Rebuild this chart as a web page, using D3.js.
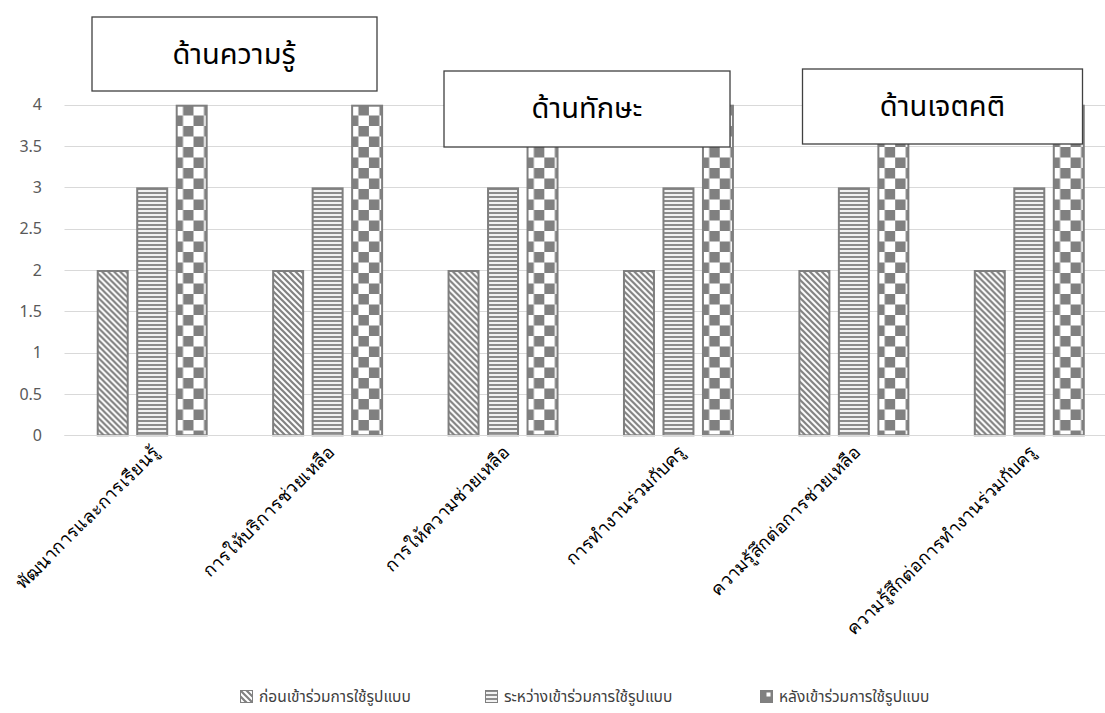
<!DOCTYPE html>
<html>
<head>
<meta charset="utf-8">
<script src="https://cdn.jsdelivr.net/npm/d3@7"></script>
<style>
  html, body { margin: 0; padding: 0; background: #fff; }
  svg { display: block; font-family: "Noto Sans Thai", "Leelawadee UI", Tahoma, "Noto Sans", "DejaVu Sans", sans-serif; }
</style>
</head>
<body>
<svg id="chart" width="1105" height="713"></svg>
<script>
// Categories (x axis), one value per series, y ticks
const categories = [
  "พัฒนาการและการเรียนรู้",
  "การให้บริการช่วยเหลือ",
  "การให้ความช่วยเหลือ",
  "การทำงานร่วมกับครู",
  "ความรู้สึกต่อการช่วยเหลือ",
  "ความรู้สึกต่อการทำงานร่วมกับครู"
];
const seriesNames = [
  "ก่อนเข้าร่วมการใช้รูปแบบ",
  "ระหว่างเข้าร่วมการใช้รูปแบบ",
  "หลังเข้าร่วมการใช้รูปแบบ"
];
const beforeValues = [2, 2, 2, 2, 2, 2];
const duringValues = [3, 3, 3, 3, 3, 3];
const afterValues  = [4, 4, 4, 4, 4, 4];
const yTicks = [0, 0.5, 1, 1.5, 2, 2.5, 3, 3.5, 4];
const sectionLabels = ["ด้านความรู้", "ด้านทักษะ", "ด้านเจตคติ"];

const seriesValues = [beforeValues, duringValues, afterValues];
const patternIds = ["pat-diag", "pat-horiz", "pat-check"];
const legendPatternIds = ["pat-diag", "pat-horiz", "pat-check-small"];

const svg = d3.select("#chart");
const defs = svg.append("defs");
const gray = "#808080";

// Wide downward diagonal
const pd = defs.append("pattern").attr("id", "pat-diag")
  .attr("patternUnits", "userSpaceOnUse").attr("width", 6).attr("height", 6);
pd.append("rect").attr("width", 6).attr("height", 6).attr("fill", "#fff");
pd.append("path").attr("d", "M-1,-1 L7,7 M-4,2 L1,7 M2,-4 L7,1")
  .attr("stroke", gray).attr("stroke-width", 2.2);

// Horizontal stripes
const ph = defs.append("pattern").attr("id", "pat-horiz")
  .attr("patternUnits", "userSpaceOnUse").attr("width", 4).attr("height", 4);
ph.append("rect").attr("width", 4).attr("height", 4).attr("fill", "#f2f2f2");
ph.append("rect").attr("y", 0).attr("width", 4).attr("height", 2).attr("fill", "#8c8c8c");

// Large checkerboard
const pc = defs.append("pattern").attr("id", "pat-check")
  .attr("patternUnits", "userSpaceOnUse").attr("width", 21).attr("height", 21)
  .attr("x", 3).attr("y", 0);
pc.append("rect").attr("width", 21).attr("height", 21).attr("fill", "#fff");
pc.append("rect").attr("x", 10.5).attr("y", 0).attr("width", 10.5).attr("height", 10.5).attr("fill", gray);
pc.append("rect").attr("x", 0).attr("y", 10.5).attr("width", 10.5).attr("height", 10.5).attr("fill", gray);

// Small checker swatch for the legend key
const pcs = defs.append("pattern").attr("id", "pat-check-small")
  .attr("patternUnits", "objectBoundingBox").attr("width", 1).attr("height", 1);
pcs.append("rect").attr("width", 12).attr("height", 12).attr("fill", gray);
pcs.append("rect").attr("x", 6).attr("y", 2).attr("width", 4).attr("height", 4).attr("fill", "#fff");

// Scales
const x0 = d3.scaleBand().domain(categories).range([64.5, 1117]).paddingInner(0).paddingOuter(0);
const x1 = d3.scaleBand().domain(d3.range(3)).range([0, x0.bandwidth()]).paddingInner(0.19).paddingOuter(0.816);
const y = d3.scaleLinear().domain([0, 4]).range([435.3, 104.7]);

// Gridlines
svg.append("g").selectAll("line").data(yTicks).join("line")
  .attr("x1", 64.5).attr("x2", 1105)
  .attr("y1", d => Math.round(y(d)) + 0.5).attr("y2", d => Math.round(y(d)) + 0.5)
  .attr("stroke", "#d9d9d9").attr("stroke-width", 1);

// Y axis labels
const yAxis = d3.axisLeft(y).tickValues(yTicks).tickSize(0).tickPadding(0).tickFormat(d3.format("~g"));
const yg = svg.append("g").attr("transform", "translate(42,0)").call(yAxis);
yg.select(".domain").remove();
yg.selectAll("text").attr("fill", "#595959").style("font-size", "16px")
  .style("font-family", "'Noto Sans','DejaVu Sans',sans-serif");

// Bars
const groups = svg.append("g").selectAll("g").data(categories).join("g")
  .attr("transform", d => `translate(${x0(d)},0)`);
groups.selectAll("rect").data((c, i) => seriesValues.map((vals, s) => ({ s, v: vals[i] })))
  .join("rect")
  .attr("x", d => x1(d.s) + 1)
  .attr("y", d => y(d.v) + 1)
  .attr("width", x1.bandwidth() - 2)
  .attr("height", d => y(0) - y(d.v) - 1)
  .attr("fill", d => `url(#${patternIds[d.s]})`)
  .attr("stroke", "#7f7f7f").attr("stroke-width", 2);

// Baseline
svg.append("line").attr("x1", 64.5).attr("x2", 1105)
  .attr("y1", Math.round(y(0)) + 0.5).attr("y2", Math.round(y(0)) + 0.5)
  .attr("stroke", "#d9d9d9");

// Category labels, rotated 45°
const xg = svg.append("g").attr("transform", `translate(0,${y(0)})`)
  .call(d3.axisBottom(x0).tickSize(0).tickPadding(0));
xg.select(".domain").remove();
xg.selectAll(".tick text")
  .attr("fill", "#000").style("font-size", "18px")
  .attr("text-anchor", "end").attr("dy", 0)
  .attr("transform", "translate(8,18) rotate(-45)");

// Section boxes
const boxes = [
  { x: 92, y: 17, w: 285, h: 74, tx: 234, ty: 64 },
  { x: 444, y: 71, w: 286, h: 76, tx: 587, ty: 118 },
  { x: 802.5, y: 69, w: 280, h: 75, tx: 942.5, ty: 116 }
];
const bg = svg.append("g").selectAll("g").data(boxes).join("g");
bg.append("rect")
  .attr("x", d => d.x).attr("y", d => d.y).attr("width", d => d.w).attr("height", d => d.h)
  .attr("fill", "#fff").attr("stroke", "#404040").attr("stroke-width", 1.3);
bg.append("text")
  .attr("x", d => d.tx).attr("y", d => d.ty)
  .attr("text-anchor", "middle").style("font-size", "29px").attr("fill", "#000")
  .text((d, i) => sectionLabels[i]);

// Legend
const legendX = [240, 485, 760];
const lg = svg.append("g").selectAll("g").data(seriesNames).join("g")
  .attr("transform", (d, i) => `translate(${legendX[i]},690)`);
lg.append("rect").attr("x", 0.5).attr("y", 0.5).attr("width", 12).attr("height", 12)
  .attr("fill", (d, i) => `url(#${legendPatternIds[i]})`)
  .attr("stroke", "#7f7f7f").attr("stroke-width", 1);
lg.append("text").attr("x", 19).attr("y", 12)
  .style("font-size", "15.5px").attr("fill", "#404040")
  .text(d => d);
</script>
</body>
</html>
